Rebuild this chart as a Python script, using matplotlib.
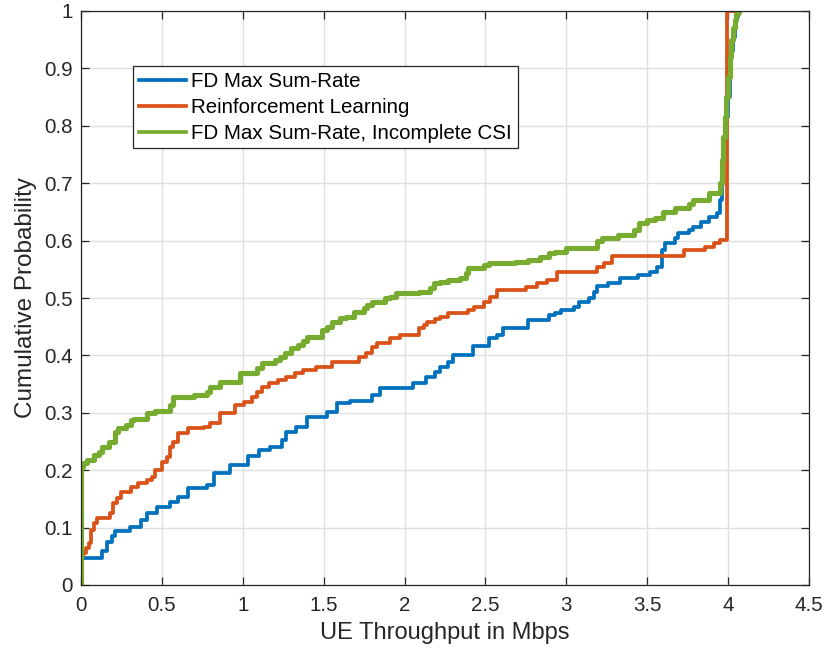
import matplotlib
matplotlib.use("Agg")
import matplotlib.pyplot as plt

plt.rcParams['font.family'] = ['Liberation Sans', 'DejaVu Sans']

# ---- data (step CDF points, steps-post) ----
fd_x = [0, 0, 0.13, 0.16, 0.19, 0.21, 0.30, 0.37, 0.41, 0.47, 0.55, 0.60, 0.66, 0.78, 0.82,
        0.92, 1.03, 1.10, 1.17, 1.24, 1.27, 1.33, 1.40, 1.52, 1.58, 1.66, 1.80, 1.85, 2.05,
        2.13, 2.19, 2.22, 2.27, 2.30, 2.42, 2.52, 2.57, 2.61, 2.76, 2.89, 2.93, 2.97, 3.05,
        3.08, 3.14, 3.17, 3.19, 3.26, 3.33, 3.44, 3.52, 3.56, 3.59, 3.61, 3.67, 3.69, 3.76,
        3.78, 3.83, 3.88, 3.93, 3.95, 3.96, 3.97, 3.98, 3.99, 4.00, 4.01, 4.02, 4.03, 4.04,
        4.05, 4.06, 4.07]
fd_y = [0, 0.047, 0.06, 0.075, 0.085, 0.094, 0.101, 0.113, 0.125, 0.136, 0.145, 0.153, 0.169,
        0.174, 0.195, 0.209, 0.225, 0.235, 0.24, 0.253, 0.267, 0.275, 0.293, 0.301, 0.317,
        0.32, 0.331, 0.343, 0.352, 0.362, 0.371, 0.38, 0.389, 0.40, 0.416, 0.43, 0.436, 0.448,
        0.462, 0.470, 0.474, 0.479, 0.484, 0.493, 0.50, 0.51, 0.521, 0.526, 0.535, 0.54,
        0.545, 0.554, 0.584, 0.596, 0.605, 0.613, 0.618, 0.624, 0.632, 0.641, 0.648, 0.67,
        0.70, 0.74, 0.78, 0.815, 0.85, 0.89, 0.93, 0.955, 0.975, 0.99, 1.0, 1.0]

rl_x = [0, 0, 0.01, 0.03, 0.05, 0.06, 0.08, 0.10, 0.18, 0.20, 0.22, 0.25, 0.31, 0.35, 0.41,
        0.44, 0.46, 0.50, 0.53, 0.55, 0.57, 0.60, 0.66, 0.76, 0.80, 0.86, 0.95, 1.01, 1.06,
        1.09, 1.12, 1.16, 1.22, 1.27, 1.32, 1.37, 1.45, 1.55, 1.72, 1.76, 1.80, 1.83, 1.91,
        1.97, 2.09, 2.12, 2.14, 2.19, 2.22, 2.27, 2.39, 2.43, 2.49, 2.53, 2.57, 2.75, 2.82,
        2.88, 2.94, 3.19, 3.23, 3.28, 3.73, 3.86, 3.91, 3.95, 3.995, 4.05]
rl_y = [0, 0.05, 0.056, 0.064, 0.073, 0.096, 0.108, 0.117, 0.125, 0.143, 0.152, 0.162, 0.171,
        0.178, 0.183, 0.188, 0.20, 0.214, 0.223, 0.24, 0.249, 0.265, 0.273, 0.276, 0.282,
        0.30, 0.314, 0.319, 0.328, 0.336, 0.345, 0.352, 0.357, 0.362, 0.369, 0.375, 0.38,
        0.389, 0.397, 0.404, 0.415, 0.422, 0.43, 0.436, 0.448, 0.453, 0.458, 0.463, 0.467,
        0.474, 0.479, 0.484, 0.493, 0.502, 0.514, 0.519, 0.526, 0.531, 0.545, 0.554, 0.561,
        0.573, 0.584, 0.589, 0.596, 0.601, 1.0, 1.0]

ic_x = [0, 0, 0.01, 0.04, 0.08, 0.11, 0.13, 0.17, 0.21, 0.23, 0.28, 0.31, 0.33, 0.41, 0.46,
        0.55, 0.57, 0.70, 0.78, 0.80, 0.86, 0.98, 1.09, 1.12, 1.20, 1.23, 1.26, 1.30, 1.34,
        1.37, 1.40, 1.49, 1.52, 1.55, 1.60, 1.64, 1.69, 1.75, 1.77, 1.80, 1.88, 1.91, 1.95,
        2.09, 2.16, 2.18, 2.22, 2.27, 2.34, 2.38, 2.39, 2.49, 2.52, 2.68, 2.76, 2.84, 2.89,
        2.93, 3.00, 3.19, 3.22, 3.32, 3.42, 3.45, 3.50, 3.55, 3.60, 3.67, 3.76, 3.78, 3.88,
        3.95, 3.96, 3.97, 3.98, 3.99, 4.00, 4.01, 4.02, 4.03, 4.04, 4.05, 4.06, 4.07]
ic_y = [0, 0.206, 0.212, 0.218, 0.226, 0.232, 0.24, 0.249, 0.267, 0.273, 0.279, 0.287, 0.29,
        0.30, 0.303, 0.314, 0.328, 0.331, 0.336, 0.345, 0.354, 0.369, 0.378, 0.387, 0.392,
        0.397, 0.404, 0.413, 0.418, 0.425, 0.432, 0.444, 0.45, 0.458, 0.465, 0.467, 0.476,
        0.483, 0.488, 0.493, 0.50, 0.502, 0.509, 0.51, 0.517, 0.526, 0.528, 0.531, 0.535,
        0.544, 0.552, 0.557, 0.561, 0.563, 0.566, 0.571, 0.578, 0.58, 0.587, 0.60, 0.605,
        0.61, 0.618, 0.631, 0.636, 0.639, 0.65, 0.657, 0.664, 0.671, 0.683, 0.70, 0.74,
        0.78, 0.815, 0.85, 0.885, 0.92, 0.95, 0.97, 0.985, 0.995, 1.0, 1.0]

labels = ['FD Max Sum-Rate', 'Reinforcement Learning', 'FD Max Sum-Rate, Incomplete CSI']
colors = ['#0072BD', '#D95319', '#77AC30']

x_ticks = [0, 0.5, 1, 1.5, 2, 2.5, 3, 3.5, 4, 4.5]
x_tick_labels = ['0', '0.5', '1', '1.5', '2', '2.5', '3', '3.5', '4', '4.5']
y_ticks = [0, 0.1, 0.2, 0.3, 0.4, 0.5, 0.6, 0.7, 0.8, 0.9, 1]
y_tick_labels = ['0', '0.1', '0.2', '0.3', '0.4', '0.5', '0.6', '0.7', '0.8', '0.9', '1']

# ---- figure ----
fig = plt.figure(figsize=(8.26, 6.56), dpi=100)
ax = fig.add_axes([81/826, 1 - 585/656, (809-81)/826, (585-11)/656])

ax.plot(fd_x, fd_y, drawstyle='steps-post', color=colors[0], lw=2.7, label=labels[0])
ax.plot(rl_x, rl_y, drawstyle='steps-post', color=colors[1], lw=2.7, label=labels[1])
ax.plot(ic_x, ic_y, drawstyle='steps-post', color=colors[2], lw=3.7, label=labels[2])

ax.set_xlim(0, 4.5)
ax.set_ylim(0, 1)
ax.set_xticks(x_ticks)
ax.set_xticklabels(x_tick_labels)
ax.set_yticks(y_ticks)
ax.set_yticklabels(y_tick_labels)

axcol = '#262626'
ax.grid(True, color='#DFDFDF', lw=1.0)
ax.set_axisbelow(True)
for s in ax.spines.values():
    s.set_color(axcol)
    s.set_linewidth(0.9)
ax.tick_params(direction='in', length=6, width=0.9, colors=axcol, labelsize=14.8,
               top=True, right=True, labelcolor='#262626')
ax.tick_params(axis='x', pad=8)
ax.tick_params(axis='y', pad=6)

ax.set_xlabel('UE Throughput in Mbps', fontsize=17, color='#262626', labelpad=5)
ax.set_ylabel('Cumulative Probability', fontsize=17.5, color='#262626', labelpad=5)

leg = ax.legend(loc='upper left', bbox_to_anchor=(52/728, (585-66)/574), borderaxespad=0,
                fontsize=14.8, frameon=True, fancybox=False, handlelength=2.3,
                handletextpad=0.25, labelspacing=0.34, borderpad=0.28)
leg.get_frame().set_edgecolor('#262626')
leg.get_frame().set_linewidth(0.9)
leg.get_frame().set_alpha(1)
for line in leg.get_lines():
    line.set_linewidth(2.7)

fig.savefig('out.png', dpi=100)
